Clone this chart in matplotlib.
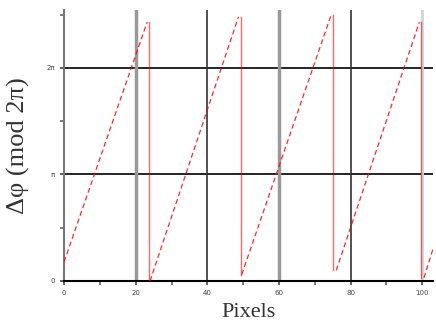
import matplotlib.pyplot as plt
import numpy as np

# sawtooth ramps: (x start, y start, x end, y end), y in units of pi
ramp_x0 = [0.0, 24.0, 49.6, 76.0, 100.5]
ramp_y0 = [0.18, 0.0, 0.06, 0.10, 0.03]
ramp_x1 = [23.2, 48.7, 74.6, 99.2, 103.0]
ramp_y1 = [2.43, 2.48, 2.50, 2.43, 0.30]

# vertical wrap-around drops
drop_x = [23.6, 49.3, 75.2, 99.7]
drop_top = [2.43, 2.48, 2.50, 2.43]
drop_bot = [0.0, 0.06, 0.10, 0.03]

xticks = [0, 20, 40, 60, 80, 100]
yticks = [0, 1, 2]
ylabels = ["0", "π", "2π"]

fig = plt.figure(figsize=(4.36, 3.29), dpi=100)
ax = fig.add_axes([0.147, 0.146, 0.846, 0.824])

# grid-like reference lines
ax.axhline(1, color="black", lw=1.2, zorder=1)
ax.axhline(2, color="black", lw=1.2, zorder=1)
ax.axvline(20, color="#999999", lw=2.5, zorder=1)
ax.axvline(40, color="#333333", lw=1.2, zorder=1)
ax.axvline(60, color="#999999", lw=2.5, zorder=1)
ax.axvline(80, color="#333333", lw=1.2, zorder=1)
ax.axvline(100, color="#d0d4dc", lw=2.0, zorder=1)

for x0, y0, x1, y1 in zip(ramp_x0, ramp_y0, ramp_x1, ramp_y1):
    ax.plot([x0, x1], [y0, y1], color="red", lw=0.9, ls=(0, (4, 2.5)), alpha=0.85, zorder=3)
for x, t, b in zip(drop_x, drop_top, drop_bot):
    ax.plot([x, x], [t, b], color="red", lw=1.0, alpha=0.6, zorder=3)

ax.set_xlim(0, 103)
ax.set_ylim(0, 2.545)
ax.set_xticks(xticks)
ax.set_xticks([10, 30, 50, 70, 90], minor=True)
ax.set_yticks(yticks)
ax.set_yticklabels(ylabels)
ax.set_yticks([0.5, 1.5, 2.5], minor=True)
ax.tick_params(labelsize=5, colors="#444444", length=3, width=1.2)
ax.tick_params(which="minor", length=3, width=1.2, colors="#666666")

for s in ["top", "right"]:
    ax.spines[s].set_visible(False)
ax.spines["left"].set_color("#777777")
ax.spines["left"].set_linewidth(1.5)
ax.spines["bottom"].set_linewidth(1.5)

ax.set_xlabel("Pixels", family="Liberation Serif", fontsize=16, color="#333333", labelpad=5)
ax.set_ylabel("Δφ (mod 2π)", family="Liberation Serif", fontsize=19, color="#333333", labelpad=12)

fig.savefig("out.png", dpi=100)
